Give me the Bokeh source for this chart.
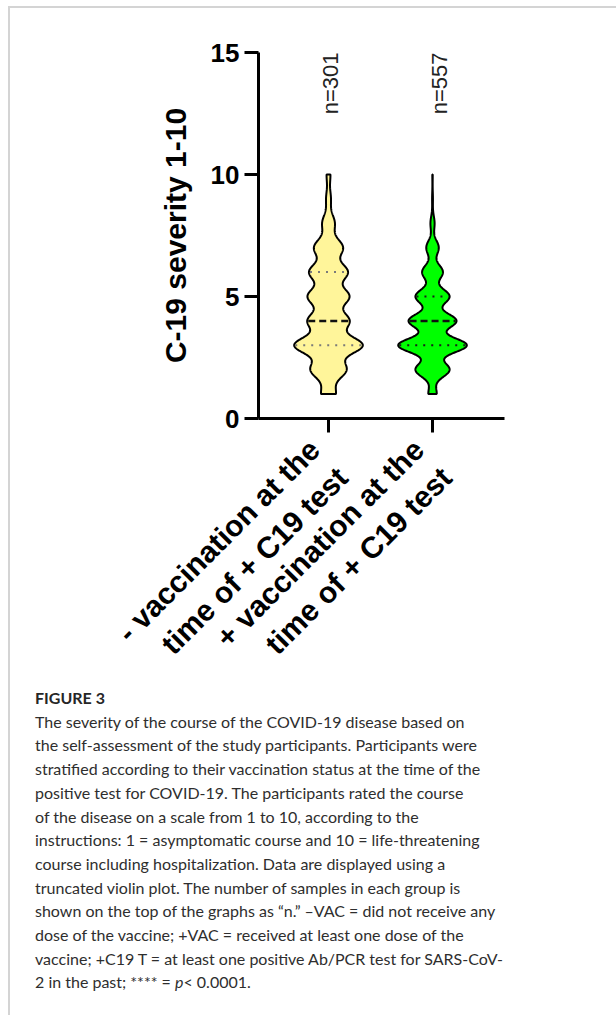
import math
import html
import numpy as np
from bokeh.plotting import figure
from bokeh.models import Range1d, FixedTicker, ColumnDataSource, Div
from bokeh.layouts import column
from bokeh.core.properties import value
from bokeh.embed import file_html
from bokeh.resources import INLINE

# ---------------- data ----------------
GROUP_LABELS = ["- vaccination at the\ntime of + C19 test",
                "+ vaccination at the\ntime of + C19 test"]
N_LABELS = ["n=301", "n=557"]
SCORES = [1, 2, 3, 4, 5, 6, 7, 8, 9, 10]
COUNTS_NO_VAC = [15, 37, 71, 43, 43, 40, 30, 13, 5, 4]      # sum 301
COUNTS_VAC = [20, 82, 165, 115, 82, 50, 30, 10, 2, 1]        # sum 557
Y_TICKS = [0, 5, 10, 15]
Y_LABEL = "C-19 severity 1-10"

CAPTION_TITLE = "FIGURE 3"
CAPTION_LINES = [
    "The severity of the course of the COVID-19 disease based on",
    "the self-assessment of the study participants. Participants were",
    "stratified according to their vaccination status at the time of the",
    "positive test for COVID-19. The participants rated the course",
    "of the disease on a scale from 1 to 10, according to the",
    "instructions: 1 = asymptomatic course and 10 = life-threatening",
    "course including hospitalization. Data are displayed using a",
    "truncated violin plot. The number of samples in each group is",
    "shown on the top of the graphs as \u201cn.\u201d \u2013VAC = did not receive any",
    "dose of the vaccine; +VAC = received at least one dose of the",
    "vaccine; +C19 T = at least one positive Ab/PCR test for SARS-CoV-",
]
CAPTION_LAST = ["2 in the past; **** = ", "p", "< 0.0001."]

# ---------------- style / layout ----------------
FILLS = ["#fff59a", "#00ff00"]
QUART_COLORS = ["#7a7a7a", "#1a1a1a"]
BANDWIDTHS = [0.35, 0.3]
HALF_WIDTH = 0.33
N_X_OFFSETS = [2, 7]
FONT = "Liberation Sans"
CAP_FONT = "Lato"

W, H = 604, 705
FL, FT, FW, FH = 248, 44, 246, 366           # frame left/top/width/height (px)

p = figure(width=W, height=H,
           x_range=Range1d(1 - 0.673, 2 + 0.692), y_range=Range1d(0, 15),
           output_backend="svg", toolbar_location=None,
           min_border_left=FL, min_border_top=FT,
           min_border_right=W - FL - FW, min_border_bottom=H - FT - FH)
p.xgrid.visible = False
p.ygrid.visible = False
p.outline_line_color = None
p.background_fill_color = "white"
p.border_fill_color = "white"

grid = np.linspace(SCORES[0], SCORES[-1], 500)
s = np.array(SCORES, dtype=float)

for i, counts in enumerate([COUNTS_NO_VAC, COUNTS_VAC]):
    c = np.array(counts, dtype=float)
    h = BANDWIDTHS[i]
    dens = (c[None, :] * np.exp(-0.5 * ((grid[:, None] - s[None, :]) / h) ** 2)).sum(axis=1)
    w = HALF_WIDTH * dens / dens.max()
    xc = i + 1
    xs = np.concatenate([xc - w, (xc + w)[::-1]])
    ys = np.concatenate([grid, grid[::-1]])
    p.patch(xs, ys, fill_color=FILLS[i], line_color="black", line_width=2)

    values = np.repeat(s, counts)
    q1, med, q3 = np.percentile(values, [25, 50, 75])
    for q, dash, col, lw in [(q1, "2 6", QUART_COLORS[i], 2),
                             (q3, "2 6", QUART_COLORS[i], 2),
                             (med, "7 4", "#111111", 2.5)]:
        wq = float(np.interp(q, grid, w))
        p.segment(x0=[xc - wq + 0.01], y0=[q], x1=[xc + wq - 0.01], y1=[q],
                  line_color=col, line_width=lw, line_dash=dash)

nsrc = ColumnDataSource(dict(x=[1, 2], y=[15, 15], t=N_LABELS, xo=N_X_OFFSETS))
p.text(x="x", y="y", text="t", x_offset="xo", source=nsrc, angle=math.pi / 2,
       text_align="right", text_baseline="middle",
       text_font=value(FONT), text_font_size="22px", text_color="#222222")

# axes
for ax in (p.xaxis[0], p.yaxis[0]):
    ax.axis_line_width = 3
    ax.axis_line_color = "black"
    ax.major_tick_line_width = 3
    ax.major_tick_line_color = "black"
    ax.major_tick_out = 14
    ax.major_tick_in = 0
    ax.minor_tick_line_color = None
    ax.major_label_text_font = FONT
    ax.major_label_text_font_style = "bold"
    ax.major_label_text_color = "black"

p.yaxis.ticker = FixedTicker(ticks=Y_TICKS)
p.yaxis.major_label_text_font_size = "26px"
p.yaxis.major_label_standoff = 5
p.yaxis.axis_label = Y_LABEL
p.yaxis.axis_label_text_font = FONT
p.yaxis.axis_label_text_font_style = "bold"
p.yaxis.axis_label_text_font_size = "30px"
p.yaxis.axis_label_text_color = "black"
p.yaxis.axis_label_standoff = 16

p.xaxis.ticker = FixedTicker(ticks=[1, 2])
p.xaxis.major_label_overrides = {1: GROUP_LABELS[0], 2: GROUP_LABELS[1]}
p.xaxis.major_label_orientation = math.pi / 4
p.xaxis.major_label_text_font_size = "30px"
p.xaxis.major_label_standoff = 26

# caption
body = "<br>".join(html.escape(t) for t in CAPTION_LINES)
last = (html.escape(CAPTION_LAST[0]) + "<i>" + html.escape(CAPTION_LAST[1]) + "</i>"
        + html.escape(CAPTION_LAST[2]))
cap_html = (
    f'<div style="padding:8px 0 0 20px; font-family:{CAP_FONT}; color:#2e2e2e; '
    f'font-size:16px; line-height:23.7px; white-space:nowrap;">'
    f'<b style="color:#262626">{html.escape(CAPTION_TITLE)}</b><br>{body}<br>{last}</div>'
)
cap = Div(text=cap_html, width=W, height=332, styles={"margin-top": "-35px"})

layout = column(p, cap, spacing=0,
                styles={"margin-left": "8px", "margin-top": "6px",
                        "border-top": "2px solid #d4d4d4",
                        "border-left": "2px solid #d4d4d4"})

open("out.html", "w").write(file_html(layout, INLINE))
